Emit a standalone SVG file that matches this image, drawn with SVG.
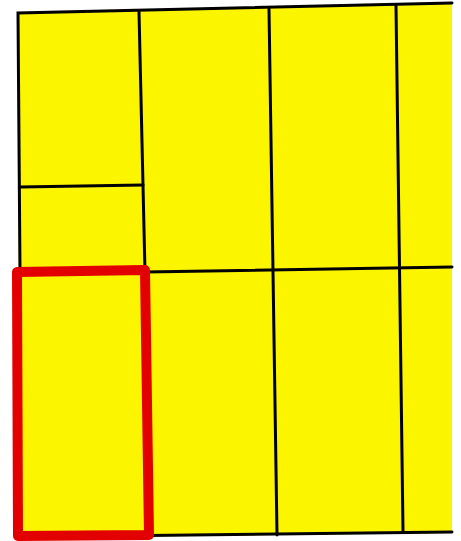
<svg xmlns="http://www.w3.org/2000/svg" width="461" height="541" viewBox="0 0 461 541">
<style>
.ln{stroke:#000;stroke-width:3;fill:none;stroke-linecap:round}
</style>
<rect width="461" height="541" fill="#fff"/>
<g id="panel">
<polygon points="18,13 452,3 452,533 19,538" fill="#fbf500"/>
</g>
<g id="grid">
<polyline class="ln" points="452,3 18,13 20,272 18,537 452,532"/>
<line class="ln" x1="139" y1="12" x2="145" y2="272"/>
<line class="ln" x1="20" y1="187" x2="143" y2="185"/>
<line class="ln" x1="269" y1="9" x2="277" y2="535"/>
<line class="ln" x1="396" y1="6" x2="403" y2="531"/>
<line class="ln" x1="145" y1="272" x2="452" y2="267"/>
</g>
<g id="highlight">
<polygon points="17,272 145,270 149,535 18,536" fill="none" stroke="#e30000" stroke-width="10" stroke-linejoin="round"/>
</g>
</svg>
